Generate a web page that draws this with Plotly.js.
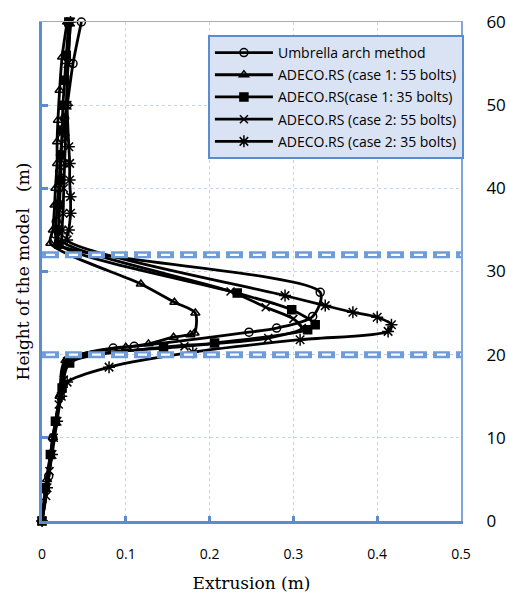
<!DOCTYPE html>
<html>
<head>
<meta charset="utf-8">
<script src="https://cdn.plot.ly/plotly-3.0.1.min.js"></script>
<style>html,body{margin:0;padding:0;background:#fff;}#chart{width:507px;height:595px;}</style>
</head>
<body>
<div id="chart"></div>
<script>
// ---- data (height of the model in m, extrusion in m) ----
const seriesNames = [
  "Umbrella arch method",
  "ADECO.RS (case 1: 55 bolts)",
  "ADECO.RS(case 1: 35 bolts)",
  "ADECO.RS (case 2: 55 bolts)",
  "ADECO.RS (case 2: 35 bolts)"
];

const umbrellaH = [0, 5.4, 10, 15, 19.3, 20.8, 21.0, 22.7, 23.2, 24.6, 27.5, 33.2, 34.5, 36, 38, 40, 42, 44, 46, 48.4, 50, 55, 60];
const umbrellaX = [0, 0.008, 0.013, 0.022, 0.03, 0.085, 0.11, 0.247, 0.28, 0.323, 0.332, 0.02, 0.016, 0.017, 0.018, 0.02, 0.021, 0.022, 0.024, 0.027, 0.030, 0.037, 0.047];

const case1b55H = [0, 5, 10, 15, 19.3, 20.9, 21.3, 22.1, 22.4, 22.6, 25.0, 26.3, 28.5, 33.4, 35, 38, 40, 43, 45.6, 48.2, 51.8, 55.8, 60];
const case1b55X = [0, 0.006, 0.013, 0.021, 0.028, 0.1, 0.127, 0.157, 0.177, 0.182, 0.183, 0.158, 0.118, 0.01, 0.013, 0.015, 0.016, 0.018, 0.018, 0.019, 0.021, 0.024, 0.03];

const case1b35H = [0, 4, 8, 12, 16, 19.0, 20.9, 21.4, 23.0, 23.6, 25.4, 27.4, 33.3, 35, 38, 41, 44, 47, 50, 53, 56, 60];
const case1b35X = [0, 0.004, 0.01, 0.016, 0.024, 0.033, 0.145, 0.206, 0.317, 0.326, 0.298, 0.233, 0.02, 0.02, 0.021, 0.022, 0.023, 0.024, 0.025, 0.027, 0.029, 0.032];

const case2b55H = [0, 3, 6, 10, 14, 17, 19.2, 21.0, 22.0, 23.2, 24.3, 25.7, 27.6, 33.6, 35, 37, 40, 43, 46, 50, 55, 60];
const case2b55X = [0, 0.005, 0.009, 0.014, 0.02, 0.026, 0.03, 0.17, 0.27, 0.31, 0.30, 0.267, 0.225, 0.025, 0.024, 0.025, 0.026, 0.027, 0.028, 0.029, 0.031, 0.034];

const case2b35H = [0, 4, 8, 12, 15, 16.7, 18.5, 20.3, 21.8, 22.8, 23.6, 24.5, 25.1, 25.9, 27.1, 33.8, 35, 37, 39, 41, 43, 45, 50, 55, 60];
const case2b35X = [0, 0.006, 0.012, 0.018, 0.023, 0.03, 0.08, 0.18, 0.308, 0.413, 0.417, 0.40, 0.371, 0.338, 0.29, 0.03, 0.032, 0.034, 0.034, 0.033, 0.033, 0.032, 0.03, 0.031, 0.034];

const zoneBounds = [20, 32];
const xTicks = [0, 0.1, 0.2, 0.3, 0.4, 0.5];
const yTicks = [0, 10, 20, 30, 40, 50, 60];

// ---- build ----
const blue = '#5B8BD0';
const symbols = ['circle-open', 'triangle-up-open', 'square', 'x-thin-open', 'asterisk-open'];
const sizes = [8, 8, 8, 8, 10];
const xs = [umbrellaX, case1b55X, case1b35X, case2b55X, case2b35X];
const hs = [umbrellaH, case1b55H, case1b35H, case2b55H, case2b35H];

const traces = seriesNames.map((name, i) => ({
  type: 'scatter', mode: 'lines+markers', name: name,
  x: xs[i], y: hs[i], legendgroup: 'g' + i,
  cliponaxis: false,
  line: {color: 'black', width: 2.8, shape: 'spline', smoothing: 0.8},
  marker: {symbol: symbols[i], size: sizes[i], color: 'black', line: {color: 'black', width: 1.5}}
}));
// empty helper trace so the frame axes (top / right) are drawn
traces.push({type: 'scatter', mode: 'markers', x: [null], y: [null], xaxis: 'x2', yaxis: 'y2',
  showlegend: false, hoverinfo: 'skip'});

const shapes = [];
zoneBounds.forEach(v => {
  shapes.push({type: 'line', xref: 'x', yref: 'y', x0: 0, x1: 0.5, y0: v, y1: v,
    line: {color: '#6F9BDA', width: 7, dash: '17px,6px'}});
  shapes.push({type: 'line', xref: 'x', yref: 'y', x0: 0, x1: 0.5, y0: v, y1: v,
    line: {color: 'white', width: 2.2, dash: '0.1px,3.9px,9px,10px'}});
});

const layout = {
  width: 507, height: 595,
  margin: {l: 42, r: 46, t: 22, b: 74},
  paper_bgcolor: 'white', plot_bgcolor: 'white',
  showlegend: true,
  legend: {
    x: 0.396, y: 0.974, xanchor: 'left', yanchor: 'top',
    bgcolor: '#DAE3F3', bordercolor: blue, borderwidth: 2,
    font: {family: 'Open Sans', size: 14, color: 'black'},
    tracegroupgap: 1, itemwidth: 58
  },
  xaxis: {
    range: [0, 0.5], tickvals: xTicks, ticktext: xTicks.map(String),
    showgrid: true, gridcolor: '#C3D3EC', griddash: 'dot', gridwidth: 1,
    showline: true, linecolor: blue, linewidth: 3,
    ticks: 'inside', ticklen: 5, tickwidth: 3, tickcolor: blue,
    tickfont: {family: 'Open Sans', size: 14, color: 'black'},
    ticklabelstandoff: 18,
    zeroline: false,
    title: {text: 'Extrusion (m)', font: {family: 'DejaVu Serif', size: 17, color: 'black'}, standoff: 16}
  },
  xaxis2: {
    overlaying: 'x', side: 'top', anchor: 'y2', range: [0, 0.5],
    showgrid: false, showline: true, linecolor: '#8FB0E0', linewidth: 1.5,
    showticklabels: false, ticks: '', zeroline: false
  },
  yaxis: {
    range: [0, 60], tickvals: yTicks,
    showgrid: true, gridcolor: '#C3D3EC', griddash: 'dot', gridwidth: 1,
    showline: true, linecolor: blue, linewidth: 3,
    ticks: 'inside', ticklen: 6, tickwidth: 3, tickcolor: blue,
    showticklabels: false, zeroline: false,
    title: {text: 'Height of the model\u00a0\u00a0\u00a0(m)', font: {family: 'DejaVu Serif', size: 17, color: 'black'}, standoff: 6}
  },
  yaxis2: {
    overlaying: 'y', side: 'right', anchor: 'x2', range: [0, 60], tickvals: yTicks, ticktext: yTicks.map(String),
    showgrid: false, showline: true, linecolor: '#7FA4DC', linewidth: 2,
    ticks: '', zeroline: false,
    tickfont: {family: 'Open Sans', size: 17, color: 'black'},
    ticklabelstandoff: 20
  },
  shapes: shapes
};

Plotly.newPlot('chart', traces, layout, {displayModeBar: false, staticPlot: true});
</script>
</body>
</html>
